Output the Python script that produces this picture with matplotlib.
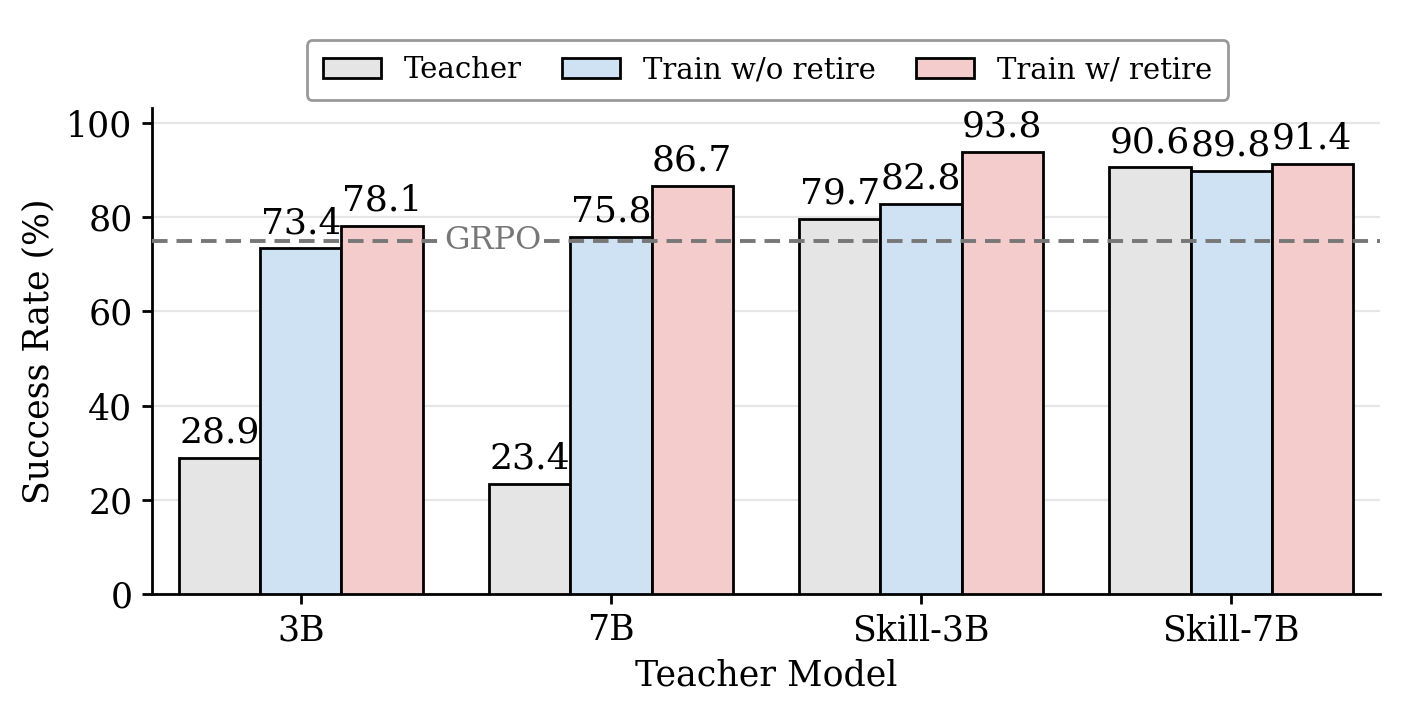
import matplotlib
matplotlib.use("Agg")
import matplotlib.pyplot as plt
import numpy as np

plt.rcParams['font.family'] = ['DejaVu Serif']

categories = ["3B", "7B", "Skill-3B", "Skill-7B"]
series_names = ["Teacher", "Train w/o retire", "Train w/ retire"]
teacher = [28.9, 23.4, 79.7, 90.6]
train_wo_retire = [73.4, 75.8, 82.8, 89.8]
train_w_retire = [78.1, 86.7, 93.8, 91.4]
grpo_value = 75.0
yticks = [0, 20, 40, 60, 80, 100]

colors = ["#e5e5e5", "#cfe2f3", "#f4cccc"]

fig = plt.figure(figsize=(7.025, 3.585), dpi=200)
ax = fig.add_axes([152/1405, 1-594/717, (1380-152)/1405, (594-108)/717])

x = np.arange(len(categories))
w = 0.262
for i, (vals, name, c) in enumerate(zip([teacher, train_wo_retire, train_w_retire], series_names, colors)):
    bars = ax.bar(x + (i-1)*w, vals, w, color=c, edgecolor="black", linewidth=1.0, label=name, zorder=3)
    for b, v in zip(bars, vals):
        ax.annotate(f"{v:.1f}", (b.get_x()+b.get_width()/2, v), xytext=(0, 3), textcoords="offset points",
                    ha="center", va="bottom", fontsize=13, zorder=5)

ax.axhline(grpo_value, color="#777777", linestyle=(0, (4, 2.3)), linewidth=1.4, zorder=4)
ax.text(0.62, grpo_value, "GRPO", color="#777777", fontsize=11.5, ha="center", va="center", zorder=6,
        bbox=dict(facecolor="white", edgecolor="none", pad=0.5))

ax.set_xlim(-0.48, 3.48)
ax.set_ylim(0, 103.2)
ax.set_yticks(yticks)
ax.set_xticks(x)
ax.set_xticklabels(categories)
ax.tick_params(axis="both", labelsize=12.5, length=3.5, width=1.0)
ax.set_xlabel("Teacher Model", fontsize=12.5)
ax.set_ylabel("Success Rate (%)", fontsize=12.5)
ax.yaxis.grid(True, color="#e6e6e6", linewidth=0.8, zorder=0)
ax.set_axisbelow(True)
for s in ["top", "right"]:
    ax.spines[s].set_visible(False)
for s in ["left", "bottom"]:
    ax.spines[s].set_linewidth(1.0)

fig.legend(loc="upper center", bbox_to_anchor=((318+1217)/2/1405, 1-40/717), ncol=3, fontsize=10.5,
           frameon=True, edgecolor="#808080", fancybox=True, borderaxespad=0, handlelength=2.0,
           columnspacing=1.35, borderpad=0.55)

fig.savefig("out.png", dpi=200)
